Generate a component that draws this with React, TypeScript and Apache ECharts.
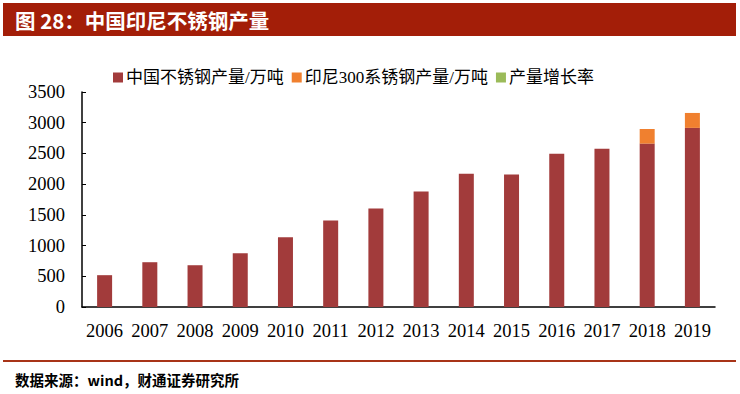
import React, { useEffect, useRef } from "react";
import * as echarts from "echarts";

const years = ["2006", "2007", "2008", "2009", "2010", "2011", "2012", "2013", "2014", "2015", "2016", "2017", "2018", "2019"];
const chinaOutput = [518, 729, 680, 875, 1134, 1410, 1604, 1880, 2171, 2155, 2495, 2576, 2660, 2916];
const indonesiaOutput = [null, null, null, null, null, null, null, null, null, null, null, null, 238, 243];
const growthRate: (number | null)[] = [];
const yTicks = { min: 0, max: 3500, interval: 500 };

const serif = "'Liberation Serif', 'Times New Roman', 'Noto Sans CJK SC', serif";

export default function App() {
  const ref = useRef<HTMLDivElement>(null);
  useEffect(() => {
    if (!ref.current) return;
    const chart = echarts.init(ref.current, null, { renderer: "svg" });
    chart.setOption({
      animation: false,
      backgroundColor: "#ffffff",
      graphic: [
        { type: "rect", shape: { x: 3, y: 3, width: 733, height: 33 }, style: { fill: "#A31E08" } },
        {
          type: "text",
          x: 15,
          y: 20,
          style: {
            text: "图 28：中国印尼不锈钢产量",
            fill: "#ffffff",
            font: "bold 20.5px 'Noto Sans CJK SC', sans-serif",
            verticalAlign: "middle",
          },
        },
        { type: "rect", shape: { x: 3, y: 360, width: 733, height: 2 }, style: { fill: "#A83418" } },
        {
          type: "text",
          x: 15,
          y: 379,
          style: {
            text: "数据来源：wind，财通证券研究所",
            fill: "#000000",
            font: "bold 14.5px 'Noto Sans CJK SC', sans-serif",
            verticalAlign: "middle",
          },
        },
      ],
      legend: {
        left: 108,
        top: 64,
        itemWidth: 10,
        itemHeight: 10,
        itemGap: 8,
        icon: "rect",
        textStyle: { fontSize: 17, color: "#000", fontFamily: serif, padding: [0, 0, 0, -2] },
        data: ["中国不锈钢产量/万吨", "印尼300系锈钢产量/万吨", "产量增长率"],
      },
      grid: { left: 82, right: 25, top: 92, bottom: 87 },
      xAxis: {
        type: "category",
        data: years,
        axisLine: { lineStyle: { color: "#000", width: 1.5 } },
        axisTick: { inside: true, length: 4, lineStyle: { color: "#000" } },
        axisLabel: { interval: 0, fontSize: 18.5, color: "#000", fontFamily: serif, margin: 15 },
      },
      yAxis: {
        type: "value",
        min: yTicks.min,
        max: yTicks.max,
        interval: yTicks.interval,
        splitLine: { show: false },
        axisLine: { show: true, lineStyle: { color: "#000", width: 1.5 } },
        axisTick: { show: true, inside: true, length: 4, lineStyle: { color: "#000" } },
        axisLabel: {
          fontSize: 18.5,
          color: "#000",
          fontFamily: serif,
          margin: 17,
          formatter: (v: number) => String(v),
        },
      },
      series: [
        {
          name: "中国不锈钢产量/万吨",
          type: "bar",
          stack: "total",
          barWidth: 15,
          data: chinaOutput,
          itemStyle: { color: "#A23B3B" },
        },
        {
          name: "印尼300系锈钢产量/万吨",
          type: "bar",
          stack: "total",
          barWidth: 15,
          data: indonesiaOutput,
          itemStyle: { color: "#F0802F" },
        },
        {
          name: "产量增长率",
          type: "line",
          data: growthRate,
          itemStyle: { color: "#9BBB59" },
          lineStyle: { color: "#9BBB59" },
        },
      ],
    });
    return () => chart.dispose();
  }, []);
  return <div ref={ref} style={{ position: "fixed", left: 0, top: 0, width: 740, height: 394 }} />;
}
